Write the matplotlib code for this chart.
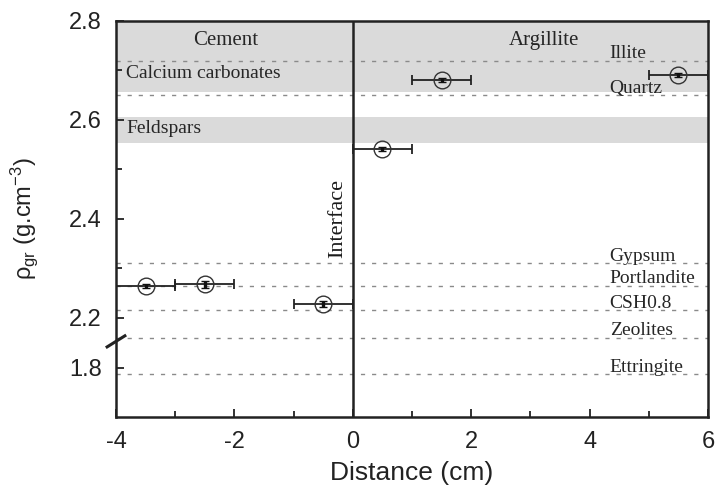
import numpy as np
import matplotlib
matplotlib.use("Agg")
import matplotlib.pyplot as plt

plt.rcParams["axes.unicode_minus"] = False
plt.rcParams["mathtext.fontset"] = "custom"
plt.rcParams["mathtext.rm"] = "Liberation Sans"
plt.rcParams["mathtext.it"] = "Liberation Sans:italic"

# measured grain density across the cement / argillite interface
distance = [-3.5, -2.5, -0.5, 0.5, 1.5, 5.5]
density = [2.264, 2.268, 2.228, 2.542, 2.680, 2.690]
dist_err = [0.5, 0.5, 0.5, 0.5, 0.5, 0.5]
dens_err = [0.004, 0.007, 0.006, 0.004, 0.004, 0.004]

# reference mineral densities (dashed lines)
mineral_names = ["Illite", "Quartz", "Gypsum", "Portlandite", "CSH0.8", "Zeolites", "Ettringite"]
mineral_density = [2.72, 2.65, 2.31, 2.265, 2.215, 2.16, 1.786]

# shaded density ranges
band_names = ["Calcium carbonates", "Feldspars"]
band_low = [2.657, 2.553]
band_high = [2.8, 2.606]

# broken y axis: values between lo and hi are squeezed out
lo, hi = 1.855, 2.155
w = hi - lo
k = 1e-3


def fwd(y):
    y = np.asarray(y, dtype=float)
    return np.where(y >= hi, y - w + k * w,
                    np.where(y <= lo, y, lo + (y - lo) * k))


def inv(z):
    z = np.asarray(z, dtype=float)
    return np.where(z >= lo + k * w, z + w - k * w,
                    np.where(z <= lo, z, lo + (z - lo) / k))


serif = "Liberation Serif"
sans = "Liberation Sans"
txt_col = "#262626"

fig = plt.figure(figsize=(7.19, 4.97), dpi=100)
ax = fig.add_axes([116 / 719, 80 / 497, 592 / 719, 396 / 497])
ax.set_yscale("function", functions=(fwd, inv))
ax.set_xlim(-4, 6)
ax.set_ylim(1.70, 2.8)

for lo_b, hi_b in zip(band_low, band_high):
    ax.axhspan(lo_b, hi_b, color="#dadada", lw=0, zorder=0)

for d in mineral_density:
    ax.axhline(d, color="#8a8a8a", lw=1, dashes=(3, 5), zorder=1)

for name, d in zip(mineral_names, mineral_density):
    ax.annotate(name, (4.34, d), xytext=(0, 5), textcoords="offset points",
                ha="left", va="center", fontsize=14, family=serif, color=txt_col)

ax.text(-3.83, 2.694, band_names[0], ha="left", va="center", fontsize=14,
        family=serif, color=txt_col)
ax.text(-3.83, 2.583, band_names[1], ha="left", va="center", fontsize=14,
        family=serif, color=txt_col)
ax.text(-2.15, 2.761, "Cement", ha="center", va="center", fontsize=15,
        family=serif, color=txt_col)
ax.text(3.23, 2.761, "Argillite", ha="center", va="center", fontsize=15,
        family=serif, color=txt_col)
ax.text(-0.25, 2.40, "Interface", ha="center", va="center", rotation=90,
        fontsize=16, family=serif, color="#1a1a1a")

ax.axvline(0, color="#222222", lw=1.8, zorder=3)

ax.errorbar(distance, density, xerr=dist_err, fmt="none", ecolor="#222222",
            elinewidth=1.3, capsize=3.5, capthick=1.3, zorder=4)
ax.errorbar(distance, density, yerr=dens_err, fmt="o", ms=12, mfc="none",
            mec="#333333", mew=1.0, ecolor="#111111", elinewidth=2.4,
            capsize=2.8, capthick=1.6, zorder=5)

ax.set_xticks([-4, -2, 0, 2, 4, 6])
ax.set_xticks([-3, -1, 1, 3, 5], minor=True)
ax.set_yticks([1.8, 2.2, 2.4, 2.6, 2.8])
ax.set_yticklabels(["1.8", "2.2", "2.4", "2.6", "2.8"])
ax.set_yticks([2.3, 2.5, 2.7], minor=True)
ax.tick_params(which="both", direction="in", top=False, right=False,
               color="#222222", width=1.3)
ax.tick_params(which="major", length=6, labelsize=17, labelcolor="#222222")
ax.tick_params(which="minor", length=4)
ax.tick_params(axis="x", which="major", pad=10)
ax.tick_params(axis="y", which="major", pad=10)
for lab in ax.get_xticklabels() + ax.get_yticklabels():
    lab.set_family(sans)

for sp in ax.spines.values():
    sp.set_linewidth(1.8)
    sp.set_color("#222222")

# break mark on the y axis
ax.plot([-0.015, 0.015], [0.177, 0.205], transform=ax.transAxes,
        color="#222222", lw=2.2, clip_on=False, zorder=6)

ax.set_xlabel("Distance (cm)", fontsize=19, family=sans, color="#222222", labelpad=6)
ax.set_ylabel("ρ$_{\\mathrm{gr}}$ (g.cm$^{-3}$)", fontsize=17, family=sans,
              color="#222222")
ax.yaxis.set_label_coords(-0.128, 0.5)

fig.savefig("out.png", dpi=100)
